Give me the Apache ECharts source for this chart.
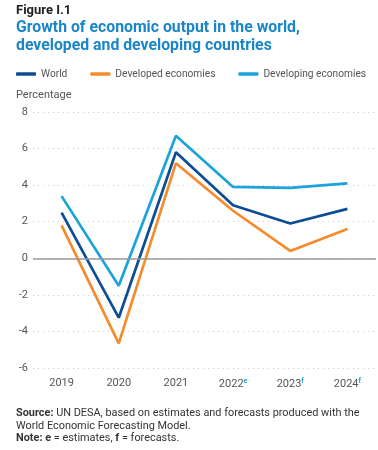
<!DOCTYPE html>
<html>
<head>
<meta charset="utf-8">
<script src="https://cdn.jsdelivr.net/npm/echarts@6/dist/echarts.min.js"></script>
<style>
html,body{margin:0;padding:0;background:#fff;}
#wrap{position:relative;width:378px;height:450px;font-family:Roboto,"Noto Sans",sans-serif;}
#chart{position:absolute;left:0;top:0;width:378px;height:450px;}
.t{position:absolute;left:16px;margin:0;white-space:nowrap;}
</style>
</head>
<body>
<div id="wrap">
<div id="chart"></div>
<div class="t" style="top:2px;font-size:13px;font-weight:bold;color:#222;">Figure I.1</div>
<div class="t" style="top:18px;font-size:15.8px;font-weight:bold;color:#1a86c8;line-height:18px;">Growth of economic output in the world,<br>developed and developing countries</div>
<div class="t" style="top:407px;font-size:10.9px;color:#333;line-height:12.5px;"><b>Source:</b> UN DESA, based on estimates and forecasts produced with the<br>World Economic Forecasting Model.<br><b>Note:</b> <b>e</b> = estimates, <b>f</b> = forecasts.</div>
</div>
<script>
var years = ['2019', '2020', '2021', '2022', '2023', '2024'];
var yearMarks = ['', '', '', 'e', 'f', 'f'];
var world = [2.5, -3.25, 5.8, 2.9, 1.9, 2.7];
var developed = [1.8, -4.65, 5.2, 2.6, 0.4, 1.6];
var developing = [3.4, -1.5, 6.7, 3.9, 3.85, 4.1];
var yTicks = [-6, -4, -2, 0, 2, 4, 6, 8];

var chart = echarts.init(document.getElementById('chart'));
function line(name, data, color) {
  return {name: name, type: 'line', data: data, symbol: 'none', z: 3,
    lineStyle: {color: color, width: 2.7}, itemStyle: {color: color}};
}
chart.setOption({
  animation: false,
  textStyle: {fontFamily: 'Roboto, "Noto Sans", sans-serif'},
  legend: {
    top: 64, left: 11, itemWidth: 20, itemHeight: 3.5, itemGap: 23,
    icon: 'roundRect', padding: [5, 5],
    textStyle: {color: '#555', fontSize: 10.2},
    data: ['World', 'Developed economies', 'Developing economies']
  },
  graphic: [{type: 'text', left: 16, top: 90, style: {text: 'Percentage', fill: '#555', fontSize: 11, fontFamily: 'Roboto, "Noto Sans", sans-serif'}}],
  grid: {left: 33, right: 2, top: 112, bottom: 82},
  xAxis: {
    type: 'category', data: years, boundaryGap: true,
    axisLine: {show: false}, axisTick: {show: false},
    axisLabel: {
      interval: 0, margin: 10, color: '#555', fontSize: 11,
      formatter: function (v, i) {
        return yearMarks[i] ? v + '{s|' + yearMarks[i] + '}' : v;
      },
      rich: {s: {fontSize: 7, color: '#1ba3dc', fontWeight: 'bold', verticalAlign: 'top', padding: [0, 0, 6, 0]}}
    }
  },
  yAxis: {
    type: 'value', min: -6, max: 8, interval: 2,
    axisLine: {show: false}, axisTick: {show: false},
    axisLabel: {color: '#555', fontSize: 11, margin: 5,
      formatter: function (v) { return yTicks.indexOf(v) >= 0 ? String(v) : ''; }},
    splitLine: {lineStyle: {color: '#ccc', type: [1, 4], width: 1}}
  },
  series: [
    {type: 'line', data: [], z: 1, silent: true,
      markLine: {silent: true, symbol: 'none', label: {show: false},
        lineStyle: {color: '#999', type: 'solid', width: 1.5},
        data: [{yAxis: 0}]}},
    line('World', world, '#0d4d94'),
    line('Developed economies', developed, '#f68b2c'),
    line('Developing economies', developing, '#1ba3dc')
  ]
});
</script>
</body>
</html>
